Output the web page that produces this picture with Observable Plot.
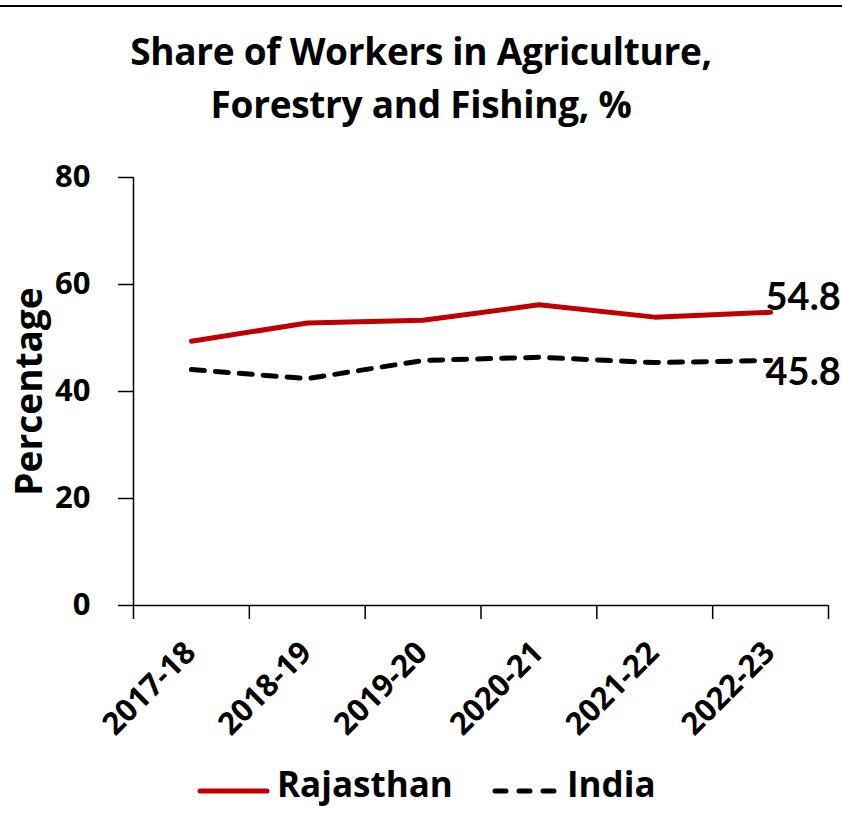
<!DOCTYPE html>
<html>
<head>
<meta charset="utf-8">
<script src="https://cdn.jsdelivr.net/npm/d3@7"></script>
<script src="https://cdn.jsdelivr.net/npm/@observablehq/plot@0.6"></script>
<style>
  body { margin: 0; background: #fff; font-family: "Open Sans", Lato, sans-serif; }
  #wrap { position: relative; width: 842px; height: 838px; }
  #topline { position: absolute; left: 0; top: 5px; width: 842px; height: 2px; background: #000; }
  #title { position: absolute; left: 0; top: 24px; width: 842px; text-align: center;
           font-weight: 700; font-size: 37px; line-height: 53px; color: #000; letter-spacing: -0.3px; }
  #chart { position: absolute; left: 0; top: 140px; }
  #legend { position: absolute; left: 0; top: 760px; }
</style>
</head>
<body>
<div id="wrap">
  <div id="topline"></div>
  <div id="title">Share of Workers in Agriculture,<br>Forestry and Fishing, %</div>
  <div id="chart"></div>
  <div id="legend"></div>
</div>
<script>
const years = ["2017-18", "2018-19", "2019-20", "2020-21", "2021-22", "2022-23"];
const rajasthan = [49.4, 52.8, 53.3, 56.2, 53.9, 54.8];
const india = [44.1, 42.4, 45.8, 46.4, 45.4, 45.8];
const yTicks = [0, 20, 40, 60, 80];
const seriesNames = ["Rajasthan", "India"];
const seriesColors = ["#C00000", "#000000"];

const rows = [];
years.forEach((y, i) => {
  rows.push({i, year: y, series: "Rajasthan", value: rajasthan[i]});
  rows.push({i, year: y, series: "India", value: india[i]});
});
const last = years.length - 1;
const font = "'Open Sans', Lato, sans-serif";

const chart = Plot.plot({
  width: 842,
  height: 620,
  marginTop: 37,
  marginBottom: 155,
  marginLeft: 133,
  marginRight: 14,
  x: {type: "linear", domain: [-0.5, years.length - 0.5]},
  y: {domain: [0, 80]},
  style: {fontFamily: font, fontWeight: 700, fontSize: "30px", color: "#000", overflow: "visible"},
  marks: [
    Plot.axisY({ticks: yTicks, tickSize: 15, tickPadding: 28, label: null, fontSize: 31, strokeWidth: 1.5}),
    Plot.axisX({ticks: d3.range(-0.5, years.length), tickSize: 14, tickFormat: () => "", label: null, strokeWidth: 1.5}),
    Plot.axisX({ticks: d3.range(years.length), tickSize: 0, tickPadding: 42, tickFormat: i => years[i],
                tickRotate: -45, dx: -1, label: null, fontSize: 31}),
    Plot.ruleX([-0.5], {stroke: "#000", strokeWidth: 1.5}),
    Plot.ruleY([0], {stroke: "#000", strokeWidth: 1.5}),
    Plot.text(["Percentage"], {frameAnchor: "left", textAnchor: "middle", rotate: -90, dx: -103, fontSize: 37, fontWeight: 700}),
    Plot.line(rows.filter(d => d.series === "Rajasthan"), {x: "i", y: "value", stroke: seriesColors[0], strokeWidth: 5}),
    Plot.line(rows.filter(d => d.series === "India"), {x: "i", y: "value", stroke: seriesColors[1], strokeWidth: 5,
               strokeDasharray: "13,11", strokeLinecap: "round"}),
    Plot.text([{i: last, value: rajasthan[last]}], {x: "i", y: "value", text: d => d.value.toFixed(1),
               textAnchor: "start", dx: -5, dy: -14, fontSize: 38, fontWeight: 700, fontFamily: "Lato, sans-serif"}),
    Plot.text([{i: last, value: india[last]}], {x: "i", y: "value", text: d => d.value.toFixed(1),
               textAnchor: "start", dx: -5, dy: 12, fontSize: 38, fontWeight: 700, fontFamily: "Lato, sans-serif"})
  ]
});
document.getElementById("chart").appendChild(chart);

// Legend
const ns = "http://www.w3.org/2000/svg";
const lg = document.createElementNS(ns, "svg");
lg.setAttribute("width", 842);
lg.setAttribute("height", 60);
lg.innerHTML = `
  <line x1="200" y1="31" x2="267" y2="31" stroke="${seriesColors[0]}" stroke-width="5" stroke-linecap="round"/>
  <text x="277" y="37" font-family="${font.replace(/'/g, "")}" font-weight="700" font-size="35">${seriesNames[0]}</text>
  <line x1="495" y1="31" x2="556" y2="31" stroke="${seriesColors[1]}" stroke-width="5" stroke-linecap="round" stroke-dasharray="11,13"/>
  <text x="567" y="37" font-family="${font.replace(/'/g, "")}" font-weight="700" font-size="35">${seriesNames[1]}</text>`;
document.getElementById("legend").appendChild(lg);
</script>
</body>
</html>
